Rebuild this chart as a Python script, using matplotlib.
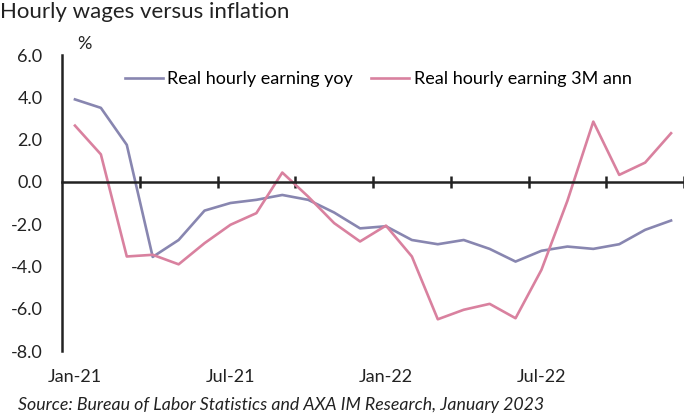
import matplotlib.pyplot as plt
from matplotlib.ticker import FixedLocator

plt.rcParams['font.family'] = ['Lato', 'DejaVu Sans']

months = ["Jan-21", "Feb-21", "Mar-21", "Apr-21", "May-21", "Jun-21",
          "Jul-21", "Aug-21", "Sep-21", "Oct-21", "Nov-21", "Dec-21",
          "Jan-22", "Feb-22", "Mar-22", "Apr-22", "May-22", "Jun-22",
          "Jul-22", "Aug-22", "Sep-22", "Oct-22", "Nov-22", "Dec-22"]
yoy = [3.9, 3.5, 1.75, -3.55, -2.75, -1.36, -1.0, -0.85, -0.62, -0.85, -1.45, -2.2,
       -2.1, -2.75, -2.95, -2.75, -3.17, -3.77, -3.26, -3.06, -3.17, -2.95, -2.27, -1.83]
ann3m = [2.66, 1.3, -3.53, -3.45, -3.9, -2.9, -2.03, -1.48, 0.44, -0.7, -1.95, -2.82,
         -2.07, -3.53, -6.5, -6.05, -5.77, -6.45, -4.16, -0.9, 2.85, 0.33, 0.91, 2.3]
label_months = ["Jan-21", "Jul-21", "Jan-22", "Jul-22"]

blue = "#8886b0"
pink = "#d9819f"
ink = "#222222"

fig = plt.figure(figsize=(6.84, 4.16), dpi=100)
ax = fig.add_axes([62 / 684, 1 - 351 / 416, 1 - 62 / 684, (351 - 55) / 416])

x = list(range(len(months)))
ax.plot(x, yoy, color=blue, lw=1.9, label="Real hourly earning yoy")
ax.plot(x, ann3m, color=pink, lw=1.9, label="Real hourly earning 3M ann")

ax.set_xlim(-0.5, 23.5)
ax.set_ylim(-8, 6)

# y axis
yvals = [6, 4, 2, 0, -2, -4, -6, -8]
ax.set_yticks(yvals)
ax.set_yticklabels([f"{v:.1f}" for v in yvals])
ax.tick_params(axis="y", length=0, pad=14, labelsize=13, colors=ink)
ax.yaxis.set_minor_locator(FixedLocator([6, -8]))
ax.tick_params(axis="y", which="minor", direction="in", length=4, width=1.8, color=ink)
ax.spines["left"].set_linewidth(1.8)
ax.spines["left"].set_color(ink)

# x axis line at zero with ticks at quarter boundaries
ax.spines["bottom"].set_position(("data", 0))
ax.spines["bottom"].set_linewidth(1.8)
ax.spines["bottom"].set_color(ink)
ax.set_xticks([i - 0.5 for i in range(3, 25, 3)])
ax.set_xticklabels([])
ax.tick_params(axis="x", direction="inout", length=9, width=1.8, color=ink)
ax.spines["top"].set_visible(False)
ax.spines["right"].set_visible(False)

sec = ax.secondary_xaxis("bottom")
sec.set_xticks([months.index(m) for m in label_months])
sec.set_xticklabels(label_months)
sec.tick_params(length=0, pad=13, labelsize=13, colors=ink)
sec.spines["bottom"].set_visible(False)

ax.text(0.1, 6.15, "%", fontsize=13, color=ink, ha="left", va="bottom")

ax.legend(loc="upper left", bbox_to_anchor=(0.075, 1.0), ncol=2, frameon=False,
          handlelength=2.1, handletextpad=0.25, columnspacing=1.0, fontsize=13)

fig.text(0.0, 0.995, "Hourly wages versus inflation", fontsize=16, color=ink,
         ha="left", va="top")
fig.text(0.026, 0.008, "Source: Bureau of Labor Statistics and AXA IM Research, January 2023",
         fontsize=12.8, style="italic", color=ink, ha="left", va="bottom")

fig.savefig("out.png", dpi=100)
